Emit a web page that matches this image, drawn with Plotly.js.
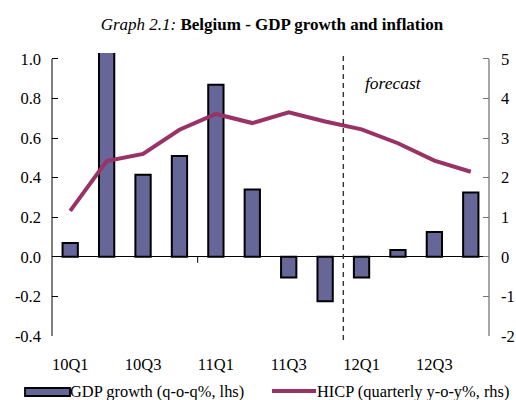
<!DOCTYPE html>
<html><head><meta charset="utf-8">
<script src="https://cdn.plot.ly/plotly-3.0.1.min.js"></script>
<style>html,body{margin:0;padding:0;background:#fff}#chart{width:516px;height:400px}</style>
</head><body><div id="chart"></div>
<script>
var quarters = ["10Q1","10Q2","10Q3","10Q4","11Q1","11Q2","11Q3","11Q4","12Q1","12Q2","12Q3","12Q4"];
var gdpGrowth = [0.07, 1.05, 0.415, 0.51, 0.87, 0.34, -0.105, -0.225, -0.105, 0.035, 0.125, 0.325];
var hicp = [1.16, 2.42, 2.6, 3.21, 3.61, 3.38, 3.65, 3.42, 3.22, 2.87, 2.43, 2.15];
var xTickLabels = ["10Q1","10Q3","11Q1","11Q3","12Q1","12Q3"];
var leftTicks = [-0.4,-0.2,0,0.2,0.4,0.6,0.8,1.0];
var leftTickText = ["-0.4","-0.2","0.0","0.2","0.4","0.6","0.8","1.0"];
var rightTicks = [-2,-1,0,1,2,3,4,5];
var rightTickText = ["-2","-1","0","1","2","3","4","5"];

var FONT = 'Liberation Serif';
var W=516,H=400, L=52, R=489, T=53, B=336;
function px(x){return (x-L)/(R-L);}
function py(y){return (B-y)/(B-T);}
var BARC = '#666699', LINEC = '#993366';

var traces = [
 {type:'bar', x:quarters, y:gdpGrowth, marker:{color:BARC, line:{color:'#000', width:2}}, width:0.42, yaxis:'y', cliponaxis:true, hoverinfo:'skip'},
 {type:'scatter', mode:'lines', x:quarters, y:hicp, line:{color:LINEC, width:4}, yaxis:'y2', hoverinfo:'skip'}
];

var shapes = [
 {type:'line', xref:'paper', yref:'y', x0:0, x1:0, y0:-0.4, y1:1.0, line:{color:'#000', width:1}},
 {type:'line', xref:'paper', yref:'y', x0:1, x1:1, y0:-0.4, y1:1.0, line:{color:'#777', width:1.3}},
 {type:'line', xref:'x', yref:'y', x0:3.5, x1:3.5, y0:0, y1:-0.03, line:{color:'#000', width:1}},
 {type:'line', xref:'x', yref:'paper', x0:7.5, x1:7.5, y0:py(340), y1:py(55), line:{color:'#333', width:1.4, dash:'5px,4px'}},
 {type:'rect', xref:'paper', yref:'paper', x0:px(25), x1:px(70), y0:py(396), y1:py(388), fillcolor:BARC, line:{color:'#000', width:1.8}},
 {type:'line', xref:'paper', yref:'paper', x0:px(272), x1:px(316), y0:py(391), y1:py(391), line:{color:LINEC, width:4}}
];

var annotations = [
 {xref:'paper', yref:'paper', x:px(393), y:py(83), xanchor:'center', yanchor:'middle', text:'<i>forecast</i>', showarrow:false, font:{family:FONT, size:17.5, color:'#000'}},
 {xref:'paper', yref:'paper', x:px(70), y:py(391.5), xanchor:'left', yanchor:'middle', text:'GDP growth (q-o-q%, lhs)', showarrow:false, font:{family:FONT, size:16.4, color:'#000'}, xshift:-2},
 {xref:'paper', yref:'paper', x:px(317), y:py(391.5), xanchor:'left', yanchor:'middle', text:'HICP (quarterly y-o-y%, rhs)', showarrow:false, font:{family:FONT, size:16.4, color:'#000'}, xshift:-2}
];

var layout = {
 width:W, height:H, paper_bgcolor:'#fff', plot_bgcolor:'#fff', showlegend:false,
 margin:{l:L, r:W-R, t:T, b:H-B, pad:0},
 font:{family:FONT, size:16, color:'#000'},
 title:{text:'<i>Graph 2.1:</i> <b>Belgium - GDP growth and inflation</b>', x:0.527, xanchor:'center', y:0.94, yanchor:'middle', font:{family:FONT, size:17, color:'#000'}},
 xaxis:{type:'category', categoryorder:'array', categoryarray:quarters, range:[-0.5,11.5], tickmode:'array', tickvals:xTickLabels, ticktext:xTickLabels, ticks:'', showline:false, showgrid:false, zeroline:false, ticklabelstandoff:16, tickfont:{family:FONT, size:16.5}},
 yaxis:{range:[-0.4,1.03], tickmode:'array', tickvals:leftTicks, ticktext:leftTickText, ticks:'inside', ticklen:6, tickcolor:'#000', showline:false, showgrid:false, zeroline:true, zerolinecolor:'#000', zerolinewidth:1, tickfont:{family:FONT, size:16.5}, ticklabelstandoff:10},
 yaxis2:{overlaying:'y', side:'right', range:[-2,5.15], tickmode:'array', tickvals:rightTicks, ticktext:rightTickText, ticks:'inside', ticklen:6, tickcolor:'#777', showline:false, showgrid:false, zeroline:false, tickfont:{family:FONT, size:16.5}, ticklabelstandoff:11},
 bargap:0.58, shapes:shapes, annotations:annotations
};
Plotly.newPlot('chart', traces, layout, {staticPlot:true, displayModeBar:false});
</script></body></html>
